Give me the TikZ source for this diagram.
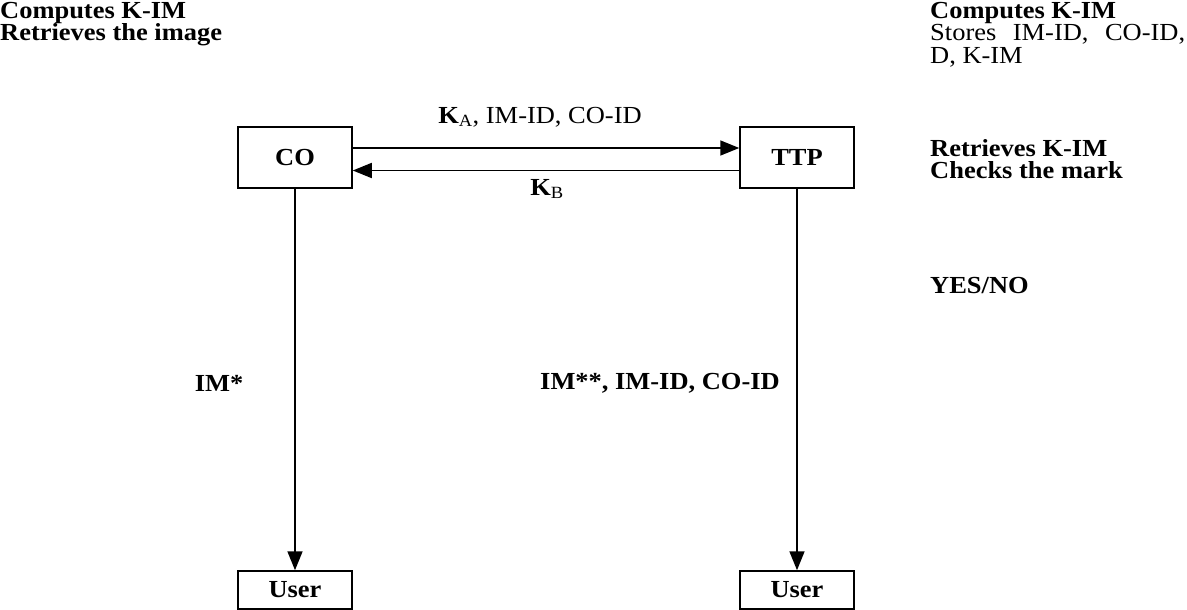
\documentclass[tikz,border=0pt]{standalone}
\usepackage{fontspec}
\setmainfont[FakeStretch=1.08]{Liberation Serif}
\usetikzlibrary{arrows.meta}
\newcommand{\dfont}{\fontsize{24.5}{22.5}\selectfont}
\tikzset{
  every node/.style={font=\dfont, inner sep=0pt},
  box/.style={draw, line width=1.5pt, minimum width=114pt, minimum height=61pt, font=\dfont\bfseries},
  userbox/.style={box, minimum height=38pt},
  arr/.style={line width=1.7pt, -{Triangle[length=19pt,width=15pt]}},
  note/.style={anchor=north west, align=left, font=\dfont\bfseries},
  lbl/.style={font=\dfont\bfseries}
}
\begin{document}
\begin{tikzpicture}[x=1pt, y=-1pt]
\useasboundingbox (0,0) rectangle (1187,610);
% boxes
\node[box] (co) at (295,157.5) {CO};
\node[box] (ttp) at (797,157.5) {TTP};
\node[userbox] (u1) at (295,590) {User};
\node[userbox] (u2) at (797,590) {User};
% horizontal arrows
\draw[arr] ([yshift=9.5pt]co.east) -- ([yshift=9.5pt]ttp.west);
\draw[arr] ([yshift=-13pt]ttp.west) -- ([yshift=-13pt]co.east);
% vertical arrows
\draw[arr] (co.south) -- (u1.north);
\draw[arr] (ttp.south) -- (u2.north);
% arrow labels
\node (ka) at (540,117) {\textbf{K}\textsubscript{A}, IM-ID, CO-ID};
\node (kb) at (547,189) {\textbf{K}\textsubscript{B}};
\node[lbl] (im1) at (219,383) {IM*};
\node[lbl] (im2) at (660,383) {IM**, IM-ID, CO-ID};
% side notes
\node[note] (tl) at (0,2) {Computes K-IM\\Retrieves the image};
\node[note] (tr) at (930,2) {Computes K-IM\\\mdseries\makebox[255pt][s]{Stores IM-ID, CO-ID,}\\\mdseries D, K-IM};
\node[note] (chk) at (930,139) {Retrieves K-IM\\Checks the mark};
\node[note] (yn) at (930,277) {YES/NO};
\end{tikzpicture}
\end{document}
